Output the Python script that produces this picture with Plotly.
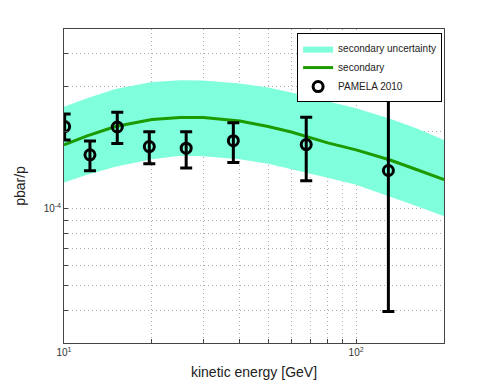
import plotly.graph_objects as go

# model curve (secondary) and its uncertainty band
energy = [10, 12, 15, 20, 25, 30, 40, 50, 60, 80, 100, 130, 160, 200]
secondary = [1.77e-4, 1.918e-4, 2.088e-4, 2.223e-4, 2.263e-4, 2.263e-4, 2.193e-4,
             2.088e-4, 1.988e-4, 1.803e-4, 1.693e-4, 1.549e-4, 1.423e-4, 1.296e-4]
band_upper = [2.49e-4, 2.69e-4, 2.92e-4, 3.11e-4, 3.16e-4, 3.15e-4, 3.07e-4,
              2.96e-4, 2.83e-4, 2.62e-4, 2.46e-4, 2.24e-4, 2.06e-4, 1.85e-4]
band_lower = [1.264e-4, 1.355e-4, 1.455e-4, 1.558e-4, 1.605e-4, 1.598e-4, 1.558e-4,
              1.494e-4, 1.429e-4, 1.319e-4, 1.239e-4, 1.113e-4, 1.027e-4, 9.34e-5]

# PAMELA 2010 data
pamela_e = [10.05, 12.27, 15.22, 19.59, 26.2, 38.0, 67.5, 129]
pamela_val = [2.085e-4, 1.62e-4, 2.078e-4, 1.744e-4, 1.719e-4, 1.839e-4, 1.775e-4, 1.407e-4]
pamela_hi = [2.335e-4, 1.834e-4, 2.37e-4, 1.993e-4, 1.993e-4, 2.16e-4, 2.267e-4, 2.998e-4]
pamela_lo = [1.851e-4, 1.404e-4, 1.791e-4, 1.494e-4, 1.438e-4, 1.511e-4, 1.284e-4, 3.977e-5]

x_ticks = [10, 20, 30, 40, 50, 60, 70, 80, 90, 100, 200]
x_labels = ["10<sup>1</sup>"] + [""] * 8 + ["10<sup>2</sup>", ""]
y_ticks = [3e-5, 4e-5, 5e-5, 6e-5, 7e-5, 8e-5, 9e-5, 1e-4, 2e-4, 3e-4, 4e-4, 5e-4]
y_labels = [""] * 7 + ["10<sup>-4</sup>"] + [""] * 4

fig = go.Figure()
fig.add_trace(go.Scatter(
    x=energy + energy[::-1],
    y=band_upper + band_lower[::-1],
    fill="toself", fillcolor="#7fffdc",
    line=dict(width=0), mode="lines",
    name="secondary uncertainty",
))
fig.add_trace(go.Scatter(
    x=energy, y=secondary, mode="lines",
    line=dict(color="#1c9a00", width=3),
    name="secondary",
))
fig.add_trace(go.Scatter(
    x=pamela_e, y=pamela_val, mode="markers",
    marker=dict(symbol="circle-open", size=10, color="black", line=dict(width=3)),
    error_y=dict(
        type="data", symmetric=False,
        array=[h - v for h, v in zip(pamela_hi, pamela_val)],
        arrayminus=[v - l for v, l in zip(pamela_val, pamela_lo)],
        color="black", thickness=3, width=6,
    ),
    name="PAMELA 2010",
))

axis_common = dict(
    showline=True, mirror=True, linecolor="#444", linewidth=1,
    showgrid=True, gridcolor="#aaaaaa", griddash="1px,3px", gridwidth=1,
    ticks="inside", ticklen=4, tickcolor="#444",
    tickfont=dict(size=10, color="#333"), zeroline=False,
)
fig.update_xaxes(
    type="log", range=[1, 2.30103], tickvals=x_ticks, ticktext=x_labels,
    title=dict(text="kinetic energy [GeV]", font=dict(size=14, color="#222"), standoff=10),
    **axis_common,
)
fig.update_yaxes(
    type="log", range=[-4.5229, -3.30103], tickvals=y_ticks, ticktext=y_labels,
    title=dict(text="pbar/p", font=dict(size=14, color="#222"), standoff=14),
    **axis_common,
)
# page body adds an 8px offset, so the figure is a bit smaller than the window
fig.update_layout(
    width=483, height=378,
    margin=dict(l=56, r=47, t=21, b=43, autoexpand=False),
    paper_bgcolor="white", plot_bgcolor="white",
    font=dict(family="Liberation Sans, Arial, sans-serif"),
    legend=dict(
        x=0.995, y=0.987, xanchor="right", yanchor="top",
        bgcolor="white", bordercolor="black", borderwidth=1,
        font=dict(size=10, color="#222"), tracegroupgap=0, itemwidth=30,
    ),
    showlegend=True,
)
fig.write_html("out.html")
